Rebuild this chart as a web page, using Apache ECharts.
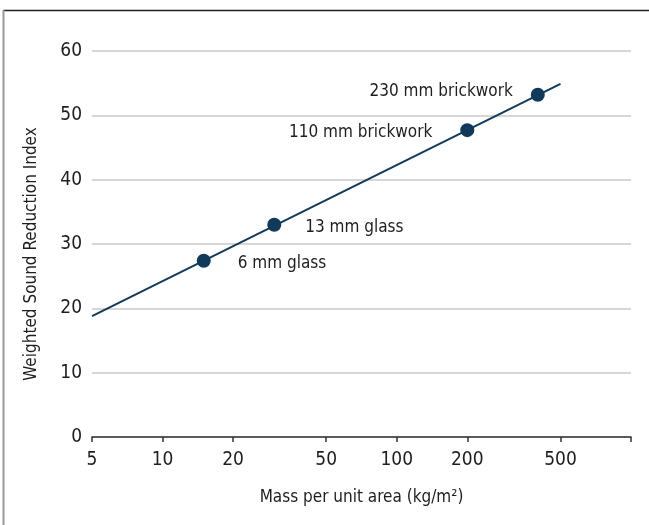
<!DOCTYPE html>
<html>
<head>
<meta charset="utf-8">
<script src="https://cdn.jsdelivr.net/npm/echarts@6/dist/echarts.min.js"></script>
<style>html,body{margin:0;padding:0;background:#fff}#c{width:649px;height:525px}</style>
</head>
<body>
<div id="c"></div>
<script>
const lineMass = [5, 500];
const lineIndex = [18.8, 54.9];
const materials = ['6 mm glass', '13 mm glass', '110 mm brickwork', '230 mm brickwork'];
const materialMass = [15, 30, 200, 400];
const materialIndex = [27.4, 33.0, 47.7, 53.2];
const xTickValues = [5, 10, 20, 50, 100, 200, 500];
const xTickMarks = [5, 10, 20, 50, 100, 200, 500, 1000];
const yTicks = [0, 10, 20, 30, 40, 50, 60];

const FONT = "'Liberation Sans Narrow', 'DejaVu Sans Condensed', 'Roboto Condensed', sans-serif";
const NAVY = '#0f3a5c';
const TXT = '#1e1e1e';
const labelCfg = [
  {position: 'right', distance: 27, offset: [0, 3]},
  {position: 'right', distance: 24, offset: [0, 3]},
  {position: 'left', distance: 28, offset: [0, 2]},
  {position: 'left', distance: 18, offset: [0, -3]}
];

const chart = echarts.init(document.getElementById('c'));
chart.setOption({
  backgroundColor: '#fff',
  animation: false,
  grid: {left: 92, right: 18, top: 51, bottom: 88, containLabel: false},
  xAxis: {
    type: 'log', logBase: 10, min: 5, max: 1000,
    name: 'Mass per unit area (kg/m²)', nameLocation: 'middle', nameGap: 52,
    nameTextStyle: {fontFamily: FONT, fontSize: 17, color: TXT},
    axisLine: {show: true, lineStyle: {color: '#333', width: 1.5}},
    axisTick: {show: true, length: 5, lineStyle: {color: '#333', width: 1.5}, customValues: xTickMarks},
    minorTick: {show: false},
    splitLine: {show: false},
    axisLabel: {customValues: xTickValues, fontFamily: FONT, fontSize: 19, color: TXT, margin: 14,
      formatter: v => String(Math.round(v))}
  },
  yAxis: {
    type: 'value', min: 0, max: 60, interval: 10,
    name: 'Weighted Sound Reduction Index', nameLocation: 'middle', nameGap: 52, nameRotate: 90,
    nameTextStyle: {fontFamily: FONT, fontSize: 17, color: TXT, padding: [0, 20, 0, 0]},
    axisLine: {show: false}, axisTick: {show: false},
    splitLine: {lineStyle: {color: '#c8c8c8', width: 1.5}},
    axisLabel: {fontFamily: FONT, fontSize: 19, color: TXT, margin: 10,
      customValues: yTicks}
  },
  graphic: [
    {type: 'line', shape: {x1: 3, y1: 10.5, x2: 649, y2: 10.5}, style: {stroke: '#222', lineWidth: 1.5}},
    {type: 'line', shape: {x1: 3.5, y1: 10, x2: 3.5, y2: 525}, style: {stroke: '#999', lineWidth: 2}}
  ],
  series: [
    {
      type: 'line', data: lineMass.map((m, i) => [m, lineIndex[i]]),
      showSymbol: false, lineStyle: {color: NAVY, width: 2}, z: 2
    },
    {
      type: 'scatter', symbolSize: 14, itemStyle: {color: NAVY, opacity: 1}, z: 3,
      data: materials.map((name, i) => ({
        name: name, value: [materialMass[i], materialIndex[i]],
        label: Object.assign({show: true, formatter: name, fontFamily: FONT, fontSize: 17, color: TXT}, labelCfg[i])
      }))
    }
  ]
});
</script>
</body>
</html>
